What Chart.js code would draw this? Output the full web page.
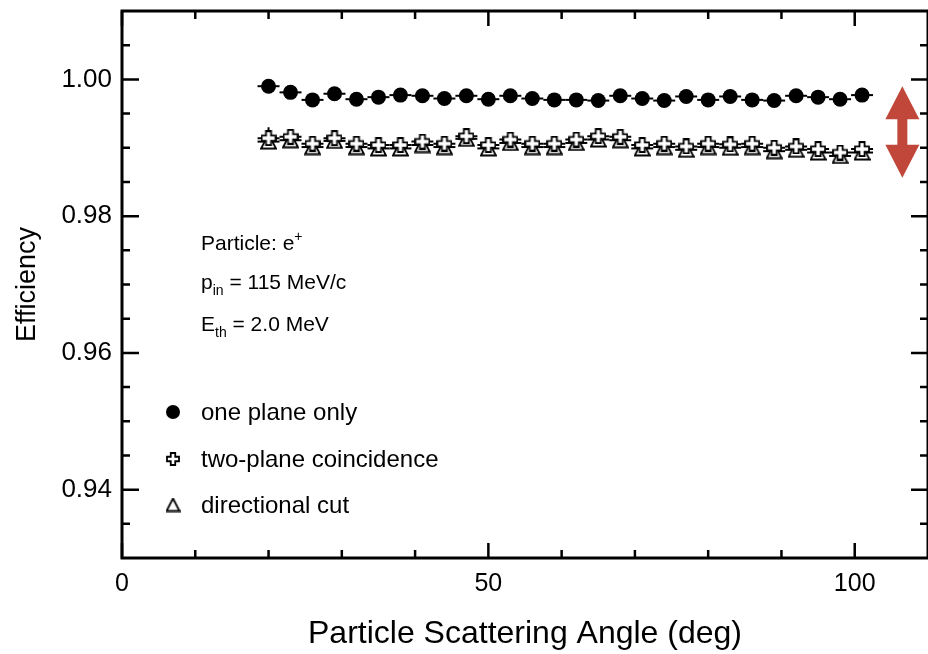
<!DOCTYPE html>
<html>
<head>
<meta charset="utf-8">
<script src="https://cdn.jsdelivr.net/npm/chart.js@4.4.1/dist/chart.umd.min.js"></script>
<style>
  html, body { margin: 0; padding: 0; background: #fff; }
  #wrap { width: 928px; height: 654px; }
</style>
</head>
<body>
<div id="wrap"><canvas id="chart" width="928" height="654"></canvas></div>
<script>
// scattering angle bins (deg)
const angles = [20, 23, 26, 29, 32, 35, 38, 41, 44, 47, 50, 53, 56, 59, 62, 65, 68, 71, 74, 77, 80, 83, 86, 89, 92, 95, 98, 101];
const binHalfWidth = 1.5;

const onePlane = [0.9990, 0.9981, 0.9970, 0.9979, 0.9971, 0.9974, 0.9977, 0.9976, 0.9972, 0.9976, 0.9971, 0.9976, 0.9972, 0.9970,
  0.9970, 0.9969, 0.9976, 0.9972, 0.9969, 0.9975, 0.9970, 0.9975, 0.9970, 0.9969, 0.9976, 0.9974, 0.9971, 0.9977];
const twoPlane = [0.9914, 0.9916, 0.9906, 0.9914, 0.9906, 0.9904, 0.9904, 0.9909, 0.9906, 0.9917, 0.9904, 0.9912, 0.9906, 0.9906,
  0.9912, 0.9917, 0.9916, 0.9904, 0.9906, 0.9902, 0.9906, 0.9905, 0.9906, 0.9900, 0.9902, 0.9898, 0.9893, 0.9898];
const twoPlaneErr = [0.0016, 0.0004, 0.0004, 0.0004, 0.0004, 0.0004, 0.0004, 0.0004, 0.0004, 0.0004, 0.0004, 0.0004, 0.0004, 0.0004,
  0.0004, 0.0004, 0.0004, 0.0004, 0.0004, 0.0004, 0.0004, 0.0004, 0.0004, 0.0004, 0.0004, 0.0004, 0.0004, 0.0004];
const directional = [0.9909, 0.9911, 0.9901, 0.9910, 0.9901, 0.9899, 0.9899, 0.9904, 0.9901, 0.9913, 0.9899, 0.9907, 0.9901, 0.9901,
  0.9907, 0.9912, 0.9911, 0.9899, 0.9901, 0.9897, 0.9901, 0.9900, 0.9901, 0.9895, 0.9897, 0.9893, 0.9888, 0.9893];

const xTickLabels = [0, 50, 100];
const xMinorTicks = [10, 20, 30, 40, 60, 70, 80, 90];
const yTickLabels = [0.94, 0.96, 0.98, 1.00];
const yMinorTicks = [0.935, 0.945, 0.95, 0.955, 0.965, 0.97, 0.975, 0.985, 0.99, 0.995, 1.005];

const legendLabels = ['one plane only', 'two-plane coincidence', 'directional cut'];
// red double arrow, in data units
const arrowX = 106.5, arrowTop = 0.9990, arrowBottom = 0.9856;

const FONT = '"Liberation Sans", Arial, Helvetica, sans-serif';

function crossMarker(s) {
  const c = document.createElement('canvas');
  c.width = c.height = s;
  const g = c.getContext('2d');
  const lo = 1, hi = s - 1, a1 = s * 0.34, a2 = s * 0.66;
  const pts = [[a1, lo], [a2, lo], [a2, a1], [hi, a1], [hi, a2], [a2, a2], [a2, hi], [a1, hi], [a1, a2], [lo, a2], [lo, a1], [a1, a1]];
  g.beginPath();
  pts.forEach((p, i) => i ? g.lineTo(p[0], p[1]) : g.moveTo(p[0], p[1]));
  g.closePath();
  g.fillStyle = '#fff'; g.fill();
  g.lineWidth = 1.8; g.strokeStyle = '#000'; g.stroke();
  return c;
}

function triangleMarker(s) {
  const c = document.createElement('canvas');
  c.width = c.height = s;
  const g = c.getContext('2d');
  g.beginPath();
  g.moveTo(s / 2, 1); g.lineTo(s - 1, s - 1.5); g.lineTo(1, s - 1.5);
  g.closePath();
  g.fillStyle = '#fff'; g.fill();
  g.lineWidth = 1.8; g.strokeStyle = '#000'; g.stroke();
  return c;
}

const crossImg = crossMarker(16);
const triImg = triangleMarker(17);
const crossLegend = crossMarker(14);
const triLegend = triangleMarker(15);

const toPts = (ys) => angles.map((a, i) => ({ x: a, y: ys[i] }));

const errorBars = {
  id: 'errorBars',
  beforeDatasetsDraw(chart) {
    const { ctx, scales: { x, y } } = chart;
    ctx.save();
    ctx.strokeStyle = '#000';
    ctx.lineWidth = 2;
    chart.data.datasets.forEach((ds) => {
      ds.data.forEach((p, i) => {
        const py = y.getPixelForValue(p.y);
        const px = x.getPixelForValue(p.x);
        ctx.beginPath();
        ctx.moveTo(x.getPixelForValue(p.x - binHalfWidth), py);
        ctx.lineTo(x.getPixelForValue(p.x + binHalfWidth), py);
        if (ds.yErr) {
          ctx.moveTo(px, y.getPixelForValue(p.y - ds.yErr[i]));
          ctx.lineTo(px, y.getPixelForValue(p.y + ds.yErr[i]));
        }
        ctx.stroke();
      });
    });
    ctx.restore();
  }
};

const decorations = {
  id: 'decorations',
  afterDraw(chart) {
    const { ctx, chartArea: ca, scales: { x, y } } = chart;
    ctx.save();

    // frame
    ctx.strokeStyle = '#000';
    ctx.lineWidth = 3;
    ctx.strokeRect(ca.left, ca.top, ca.right - ca.left, ca.bottom - ca.top);

    // inward ticks on all four sides
    ctx.lineWidth = 2.5;
    const xTick = (v, len) => {
      const px = x.getPixelForValue(v);
      ctx.moveTo(px, ca.bottom); ctx.lineTo(px, ca.bottom - len);
      ctx.moveTo(px, ca.top); ctx.lineTo(px, ca.top + len);
    };
    const yTick = (v, len) => {
      const py = y.getPixelForValue(v);
      ctx.moveTo(ca.left, py); ctx.lineTo(ca.left + len, py);
      ctx.moveTo(ca.right, py); ctx.lineTo(ca.right - len, py);
    };
    ctx.beginPath();
    xTickLabels.forEach(v => xTick(v, 15));
    xMinorTicks.forEach(v => xTick(v, 8));
    yTickLabels.forEach(v => yTick(v, 17));
    yMinorTicks.forEach(v => yTick(v, 8));
    ctx.stroke();

    // red double arrow
    const ax = x.getPixelForValue(arrowX);
    const at = y.getPixelForValue(arrowTop);
    const ab = y.getPixelForValue(arrowBottom);
    const hl = 33, hw = 17, sw = 5;
    ctx.fillStyle = '#c1473a';
    ctx.beginPath();
    ctx.moveTo(ax, at);
    ctx.lineTo(ax + hw, at + hl);
    ctx.lineTo(ax + sw, at + hl);
    ctx.lineTo(ax + sw, ab - hl);
    ctx.lineTo(ax + hw, ab - hl);
    ctx.lineTo(ax, ab);
    ctx.lineTo(ax - hw, ab - hl);
    ctx.lineTo(ax - sw, ab - hl);
    ctx.lineTo(ax - sw, at + hl);
    ctx.lineTo(ax - hw, at + hl);
    ctx.closePath();
    ctx.fill();

    // annotation text
    ctx.fillStyle = '#000';
    ctx.textBaseline = 'alphabetic';
    ctx.textAlign = 'left';
    const big = '21px ' + FONT, small = '14px ' + FONT;
    const runs = (x0, y0, parts) => {
      let cx = x0;
      parts.forEach(([t, f, dy]) => {
        ctx.font = f;
        ctx.fillText(t, cx, y0 + dy);
        cx += ctx.measureText(t).width;
      });
    };
    runs(201, 250, [['Particle: e', big, 0], ['+', small, -9]]);
    runs(201, 289, [['p', big, 0], ['in', small, 6], [' = 115 MeV/c', big, 0]]);
    runs(201, 331, [['E', big, 0], ['th', small, 6], [' = 2.0 MeV', big, 0]]);

    // legend
    const rows = [420, 467, 513];
    ctx.font = '24px ' + FONT;
    legendLabels.forEach((t, i) => ctx.fillText(t, 201, rows[i]));
    ctx.beginPath();
    ctx.arc(173, rows[0] - 8, 7, 0, Math.PI * 2);
    ctx.fill();
    ctx.drawImage(crossLegend, 173 - 7, rows[1] - 8 - 7);
    ctx.drawImage(triLegend, 173 - 7.5, rows[2] - 8 - 7.5);

    ctx.restore();
  }
};

new Chart(document.getElementById('chart'), {
  type: 'scatter',
  data: {
    datasets: [
      {
        label: legendLabels[0],
        data: toPts(onePlane),
        pointStyle: 'circle',
        pointRadius: 7.5,
        pointBackgroundColor: '#000',
        pointBorderWidth: 0
      },
      {
        label: legendLabels[1],
        data: toPts(twoPlane),
        yErr: twoPlaneErr,
        pointStyle: crossImg,
        pointRadius: 8
      },
      {
        label: legendLabels[2],
        data: toPts(directional),
        pointStyle: triImg,
        pointRadius: 8
      }
    ]
  },
  options: {
    responsive: false,
    animation: false,
    devicePixelRatio: 1,
    layout: { autoPadding: false, padding: { top: 11, right: -2, left: 0, bottom: 0 } },
    plugins: { legend: { display: false }, tooltip: { enabled: false } },
    scales: {
      x: {
        type: 'linear',
        min: 0,
        max: 110,
        afterFit: (s) => { s.height = 96; s.paddingLeft = 0; s.paddingRight = 0; },
        afterBuildTicks: (s) => { s.ticks = xTickLabels.map(v => ({ value: v })); },
        grid: { display: false, drawTicks: false },
        border: { display: false },
        ticks: { color: '#000', font: { family: FONT, size: 25 }, padding: 11, maxRotation: 0 },
        title: {
          display: true,
          text: 'Particle Scattering Angle (deg)',
          color: '#000',
          font: { family: FONT, size: 32 },
          padding: { top: 0, bottom: 1 }
        }
      },
      y: {
        min: 0.93,
        max: 1.01,
        afterFit: (s) => { s.width = 122; s.paddingTop = 0; s.paddingBottom = 0; },
        afterBuildTicks: (s) => { s.ticks = yTickLabels.map(v => ({ value: v })); },
        grid: { display: false, drawTicks: false },
        border: { display: false },
        ticks: {
          color: '#000',
          font: { family: FONT, size: 26 },
          padding: 10,
          callback: (v) => v.toFixed(2)
        },
        title: {
          display: true,
          text: 'Efficiency',
          color: '#000',
          font: { family: FONT, size: 27 },
          padding: { top: 11, bottom: 0 }
        }
      }
    }
  },
  plugins: [errorBars, decorations]
});
</script>
</body>
</html>
